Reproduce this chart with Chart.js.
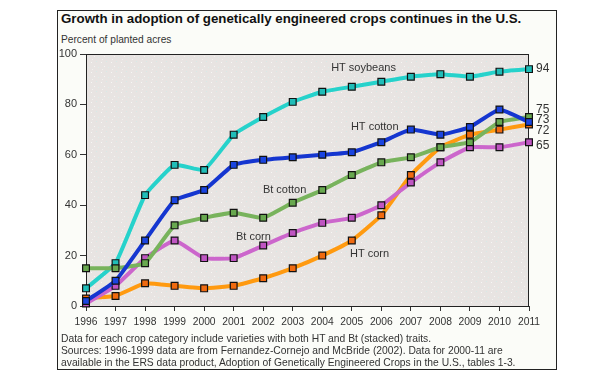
<!DOCTYPE html>
<html>
<head>
<meta charset="utf-8">
<script src="https://cdn.jsdelivr.net/npm/chart.js@4.4.0/dist/chart.umd.min.js"></script>
<style>
  body { margin: 0; background: #fff; font-family: "Liberation Sans", Arial, sans-serif; }
  #wrap { position: relative; width: 615px; height: 380px; }
  #frame { position: absolute; left: 57px; top: 10px; width: 500px; height: 360px; box-sizing: border-box; border: 1px solid #222; background: #fbfcf8; }
  #title { position: absolute; left: 61px; top: 12px; font-size: 13.3px; font-weight: bold; line-height: 13px; color: #111; white-space: nowrap; }
  #unit { position: absolute; left: 61px; top: 35px; font-size: 10.2px; line-height: 10px; color: #333; white-space: nowrap; }
  #notes { position: absolute; left: 61px; top: 333px; font-size: 10.3px; line-height: 12px; color: #333; white-space: nowrap; }
  canvas { position: absolute; left: 0; top: 0; }
</style>
</head>
<body>
<div id="wrap">
  <div id="frame"></div>
  <div id="title">Growth in adoption of genetically engineered crops continues in the U.S.</div>
  <div id="unit">Percent of planted acres</div>
  <canvas id="chart" width="615" height="380"></canvas>
  <div id="notes">Data for each crop category include varieties with both HT and Bt (stacked) traits.<br>Sources: 1996-1999 data are from Fernandez-Cornejo and McBride (2002). Data for 2000-11 are<br>available in the ERS data product, Adoption of Genetically Engineered Crops in the U.S., tables 1-3.</div>
</div>
<script>
// Years on the x axis
const years = ["1996", "1997", "1998", "1999", "2000", "2001", "2002", "2003",
               "2004", "2005", "2006", "2007", "2008", "2009", "2010", "2011"];

// Percent of planted acres for each crop
const htSoybeans = [7, 17, 44, 56, 54, 68, 75, 81, 85, 87, 89, 91, 92, 91, 93, 94];
const htCotton   = [2, 10, 26, 42, 46, 56, 58, 59, 60, 61, 65, 70, 68, 71, 78, 73];
const btCotton   = [15, 15, 17, 32, 35, 37, 35, 41, 46, 52, 57, 59, 63, 65, 73, 75];
const btCorn     = [1, 8, 19, 26, 19, 19, 24, 29, 33, 35, 40, 49, 57, 63, 63, 65];
const htCorn     = [3, 4, 9, 8, 7, 8, 11, 15, 20, 26, 36, 52, 63, 68, 70, 72];

// Y axis tick values
const yTicks = [0, 20, 40, 60, 80, 100];

// Speckled grey fill for the plot area
function makePattern() {
  const c = document.createElement("canvas");
  c.width = 10;
  c.height = 10;
  const g = c.getContext("2d");
  g.fillStyle = "#e8e4e2";
  g.fillRect(0, 0, 10, 10);
  const dots = [[1, 2, "#f7f7f6"], [6, 1, "#d6ebe7"], [4, 6, "#f5f5f4"], [8, 7, "#dcefeb"], [2, 9, "#f2f2f0"]];
  dots.forEach(d => { g.fillStyle = d[2]; g.fillRect(d[0], d[1], 1, 1); });
  return g.createPattern(c, "repeat");
}

// Draws plot background and frame
const plotBox = {
  id: "plotBox",
  beforeDatasetsDraw(chart) {
    const { ctx, chartArea: a } = chart;
    ctx.save();
    ctx.fillStyle = makePattern();
    ctx.fillRect(a.left, a.top, a.right - a.left, a.bottom - a.top);
    ctx.strokeStyle = "#222";
    ctx.lineWidth = 1;
    ctx.strokeRect(a.left + 0.5, a.top + 0.5, a.right - a.left - 1, a.bottom - a.top);
    ctx.restore();
  }
};

// Series names inside the plot and end values on the right
const seriesLabels = {
  id: "seriesLabels",
  afterDatasetsDraw(chart) {
    const { ctx, scales: { x, y }, chartArea: a } = chart;
    ctx.save();
    ctx.fillStyle = "#333";
    ctx.textBaseline = "middle";
    ctx.font = "11px 'Liberation Sans', Arial, sans-serif";
    const names = [
      ["HT soybeans", 8.30, 94.3],
      ["HT cotton", 8.97, 70.9],
      ["Bt cotton", 5.99, 46.0],
      ["Bt corn", 5.08, 27.4],
      ["HT corn", 8.94, 20.8]
    ];
    names.forEach(n => ctx.fillText(n[0], x.getPixelForValue(n[1]), y.getPixelForValue(n[2])));

    ctx.font = "12px 'Liberation Sans', Arial, sans-serif";
    const last = years.length - 1;
    const ends = [
      [htSoybeans[last], 0],
      [btCotton[last], -7],
      [htCotton[last], -2],
      [htCorn[last], 6],
      [btCorn[last], 3]
    ];
    ends.forEach(e => ctx.fillText(String(e[0]), a.right + 7, y.getPixelForValue(e[0]) + e[1]));
    ctx.restore();
  }
};

function series(data, line, fill) {
  return {
    data,
    borderColor: line,
    backgroundColor: fill,
    pointBackgroundColor: fill,
    pointBorderColor: "#111",
    pointBorderWidth: 1.2,
    pointStyle: "rect",
    pointRadius: 4.8,
    borderWidth: 4,
    tension: 0.12,
    clip: false
  };
}

new Chart(document.getElementById("chart"), {
  type: "line",
  data: {
    labels: years,
    datasets: [
      series(htCotton, "#1536d0", "#1a44e0"),
      series(btCotton, "#78b35c", "#68a84f"),
      series(btCorn, "#cc66cc", "#bf55c2"),
      series(htCorn, "#ff9a10", "#f06a10"),
      series(htSoybeans, "#26d2cb", "#20bdb8")
    ]
  },
  options: {
    responsive: false,
    animation: false,
    layout: { padding: { top: 54, right: 86, bottom: 44, left: 0 } },
    plugins: { legend: { display: false }, tooltip: { enabled: false } },
    scales: {
      x: {
        grid: { display: true, drawOnChartArea: false, drawTicks: true, tickLength: 5, color: "#333" },
        border: { display: false },
        ticks: { color: "#333", font: { size: 10.3 }, padding: 5, maxRotation: 0, autoSkip: false },
        afterFit(scale) { scale.height = 30; }
      },
      y: {
        min: 0,
        max: 100,
        afterBuildTicks(scale) { scale.ticks = yTicks.map(v => ({ value: v })); },
        grid: { display: true, drawOnChartArea: false, drawTicks: true, tickLength: 6, color: "#333" },
        border: { display: false },
        ticks: { color: "#333", font: { size: 11 }, padding: 3 },
        afterFit(scale) { scale.width = 86; }
      }
    }
  },
  plugins: [plotBox, seriesLabels]
});
</script>
</body>
</html>
